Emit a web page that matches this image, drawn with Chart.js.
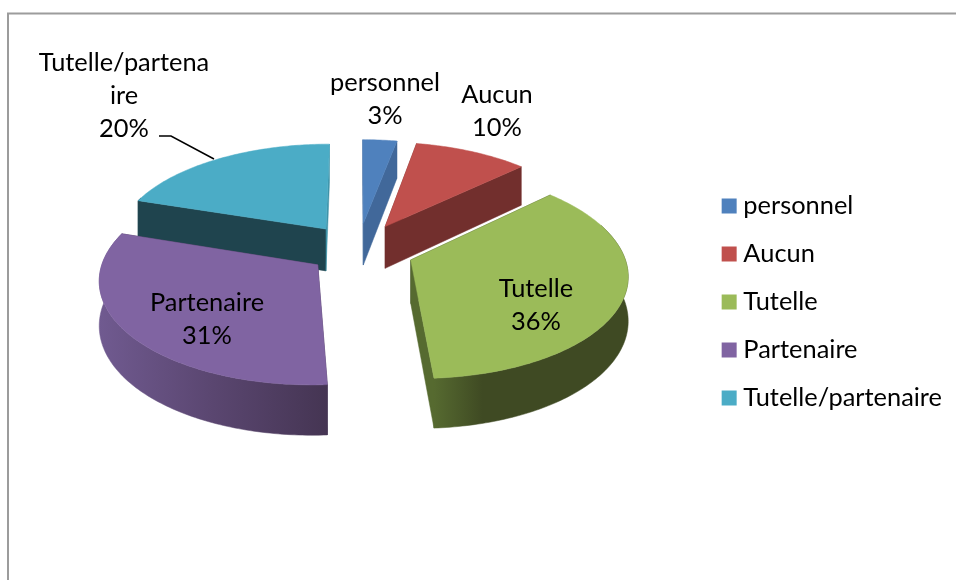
<!DOCTYPE html>
<html><head><meta charset="utf-8">
<style>html,body{margin:0;padding:0;background:#fff}canvas{display:block}</style>
<script src="https://cdn.jsdelivr.net/npm/chart.js@4"></script>
</head><body><canvas id="c" width="956" height="580"></canvas>
<script>
const categories = ['personnel','Aucun','Tutelle','Partenaire','Tutelle/partenaire'];
const values = [3,10,36,31,20];
const sliceLabelLines = [['personnel'],['Aucun'],['Tutelle'],['Partenaire'],['Tutelle/partena','ire']];

const colors = ['#4F81BD','#C0504D','#9BBB59','#8064A2','#4BACC6'];
const walls = [['#41689A','#41689A'],['#722F2D','#722F2D'],['#566A30','#3F4A23','#3F4A23','#3F4A23','#3F4A23'],['#705A90','#5A4670','#453553'],['#1F444E','#1F444E']];
const endFaces = ['#41689A','#722F2D','#566A30','#453553','#3F93A8'];
const explode = [58,58,56,50,56];
const drawOrder = [1,4,0,3,2];
const labelAnchors = [[385,83],[497,95],[536,289],[207,303],[124,63]];
const FONT = '25.4px Lato, Carlito, sans-serif';
const view = {k:0.0006, tilt:0.475, depth:43, dx:5.5, dy:-52};

function project(el,u,v,z){
  const s = 1/(1-view.k*v);
  return [el.x+view.dx+u*s, el.y+view.dy+(v*view.tilt+z)*s];
}
const pie3d = {
  id:'pie3d',
  beforeDraw(chart){
    const c = chart.ctx; c.save();
    c.fillStyle='#fff'; c.fillRect(0,0,956,580);
    c.strokeStyle='#9c9c9c'; c.lineWidth=2;
    c.beginPath(); c.moveTo(8,580); c.lineTo(8,13.5); c.lineTo(956,13.5); c.stroke();
    c.restore();
  },
  beforeDatasetsDraw(chart){
    const c = chart.ctx, arcs = chart.getDatasetMeta(0).data;
    drawOrder.forEach(i=>{
      const el = arcs[i], a0 = el.startAngle, a1 = el.endAngle, R = el.outerRadius;
      const mid = (a0+a1)/2, off = el.options.offset;
      const ox = off*Math.cos(mid), oy = off*Math.sin(mid);
      const edge = [];
      const n = Math.max(4,Math.ceil((a1-a0)*60));
      for(let j=0;j<=n;j++){const a=a0+(a1-a0)*j/n; edge.push([ox+R*Math.cos(a),oy+R*Math.sin(a)]);}
      const poly = (pts,fill)=>{c.beginPath();pts.forEach((p,q)=>q?c.lineTo(p[0],p[1]):c.moveTo(p[0],p[1]));c.closePath();c.fillStyle=fill;c.strokeStyle=fill;c.lineWidth=.5;c.fill();c.stroke();};
      const P = (p,z)=>project(el,p[0],p[1],z);
      const apex = [ox,oy];
      const ws = walls[i];
      const xs = edge.map(p=>P(p,0)[0]);
      const g = c.createLinearGradient(Math.min(...xs),0,Math.max(...xs),0);
      ws.forEach((col,q)=>g.addColorStop(q/(ws.length-1),col));
      const first = edge[0], last = edge[edge.length-1];
      poly([P(apex,0),P(first,0),P(first,view.depth),P(apex,view.depth)], ws[ws.length-1]);
      poly([P(apex,0),P(last,0),P(last,view.depth),P(apex,view.depth)], endFaces[i]);
      const wall=[]; edge.forEach(p=>{if(p[1]-oy>-R*0.35)wall.push(P(p,0));});
      edge.slice().reverse().forEach(p=>{if(p[1]-oy>-R*0.35)wall.push(P(p,view.depth));});
      if(wall.length>2) poly(wall,g);
      poly([P(apex,0),...edge.map(p=>P(p,0))], el.options.backgroundColor);
    });
    return false;
  },
  afterDraw(chart){
    const c = chart.ctx; c.save();
    c.fillStyle='#000'; c.font=FONT; c.textAlign='center'; c.textBaseline='middle';
    values.forEach((v,i)=>{
      const lines=[...sliceLabelLines[i],v+'%'];
      lines.forEach((t,q)=>c.fillText(t,labelAnchors[i][0],labelAnchors[i][1]+q*33));
    });
    c.strokeStyle='#000'; c.lineWidth=1.5;
    c.beginPath(); c.moveTo(159,136); c.lineTo(171,136); c.lineTo(214,159); c.stroke();
    c.restore();
  }
};
new Chart(document.getElementById('c'),{
  type:'pie',
  data:{labels:categories,datasets:[{data:values,backgroundColor:colors,offset:explode,borderWidth:0,radius:212}]},
  plugins:[pie3d],
  options:{
    responsive:false,animation:false,events:[],
    layout:{padding:{top:24,right:4}},
    plugins:{
      tooltip:{enabled:false},
      legend:{position:'right',labels:{color:'#000',font:{family:'Lato, Carlito, sans-serif',size:25.4},usePointStyle:true,pointStyle:'rect',boxWidth:3,boxHeight:15,padding:22.6}}
    }
  }
});
</script></body></html>
